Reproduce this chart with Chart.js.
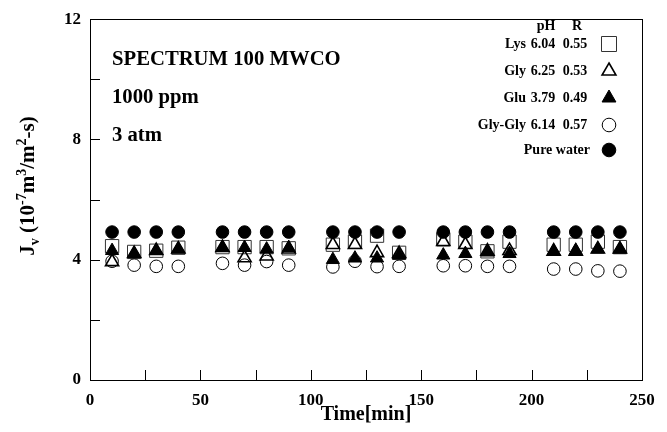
<!DOCTYPE html>
<html>
<head>
<meta charset="utf-8">
<script src="https://cdn.jsdelivr.net/npm/chart.js@4/dist/chart.umd.min.js"></script>
<style>
html,body{margin:0;padding:0;background:#fff;}
#wrap{width:667px;height:432px;position:relative;}
</style>
</head>
<body>
<div id="wrap"><canvas id="c" width="667" height="432"></canvas></div>
<script>
const times = [10,20,30,40, 60,70,80,90, 110,120,130,140, 160,170,180,190, 210,220,230,240];
const lys    = [4.45,4.26,4.30,4.40, 4.42,4.42,4.42,4.38, 4.50,4.60,4.80,4.23, 4.68,4.60,4.28,4.60, 4.50,4.50,4.60,4.42];
const gly    = [3.93,4.20,4.30,4.35, 4.40,4.06,4.12,4.35, 4.50,4.50,4.23,4.20, 4.60,4.50,4.28,4.30, 4.28,4.28,4.35,4.35];
const glu    = [4.30,4.20,4.30,4.35, 4.40,4.40,4.35,4.40, 4.00,4.05,4.05,4.15, 4.15,4.20,4.25,4.20, 4.28,4.30,4.35,4.35];
const glygly = [3.95,3.82,3.78,3.78, 3.88,3.82,3.94,3.82, 3.76,3.95,3.77,3.78, 3.80,3.80,3.78,3.78, 3.69,3.69,3.63,3.62];
const pure   = [4.92,4.92,4.92,4.92, 4.92,4.92,4.92,4.92, 4.92,4.92,4.92,4.92, 4.92,4.92,4.92,4.92, 4.92,4.92,4.92,4.92];

const seriesNames = ['Lys','Gly','Glu','Gly-Gly','Pure water'];
const seriesPH = ['6.04','6.25','3.79','6.14',''];
const seriesR  = ['0.55','0.53','0.49','0.57',''];
const annotations = ['SPECTRUM 100 MWCO','1000 ppm','3 atm'];

const FONT = '"Liberation Serif","Times New Roman",serif';

function pts(arr){ return times.map((t,i)=>({x:t,y:arr[i]})); }

const styles = [
  {pointStyle:'rect', radius:9.4, fill:'rgba(0,0,0,0)', border:'#333', bw:1, order:5},
  {pointStyle:'triangle', radius:7.6, fill:'rgba(0,0,0,0)', border:'#000', bw:1.6, order:3},
  {pointStyle:'triangle', radius:7.6, fill:'#000', border:'#000', bw:1, order:4},
  {pointStyle:'circle', radius:6.3, fill:'rgba(0,0,0,0)', border:'#000', bw:1, order:2},
  {pointStyle:'circle', radius:6.3, fill:'#000', border:'#000', bw:1, order:1},
];
const allData = [lys, gly, glu, glygly, pure];

const datasets = allData.map((d,i)=>({
  label: seriesNames[i],
  data: pts(d),
  showLine:false,
  pointStyle: styles[i].pointStyle,
  pointRadius: styles[i].radius,
  pointHoverRadius: styles[i].radius,
  backgroundColor: styles[i].fill,
  borderColor: styles[i].border,
  pointBorderWidth: styles[i].bw,
  borderWidth: styles[i].bw,
  order: styles[i].order
}));

const framePlugin = {
  id:'frame',
  afterDraw(chart){
    const ctx = chart.ctx;
    const a = chart.chartArea;
    const xs = chart.scales.x, ys = chart.scales.y;
    ctx.save();
    ctx.strokeStyle = '#000';
    ctx.lineWidth = 1;
    ctx.strokeRect(Math.round(a.left)+0.5, Math.round(a.top)+0.5, Math.round(a.right-a.left), Math.round(a.bottom-a.top));
    ctx.beginPath();
    ys.ticks.forEach(t=>{
      const y = Math.round(ys.getPixelForValue(t.value))+0.5;
      ctx.moveTo(a.left, y); ctx.lineTo(a.left+10, y);
    });
    xs.ticks.forEach(t=>{
      const x = Math.round(xs.getPixelForValue(t.value))+0.5;
      ctx.moveTo(x, a.bottom); ctx.lineTo(x, a.bottom-10);
    });
    ctx.stroke();

    // y axis title with sub/superscripts
    ctx.save();
    ctx.translate(29, 186);
    ctx.rotate(-Math.PI/2);
    ctx.fillStyle = '#000';
    ctx.textBaseline = 'middle';
    const big = 'bold 21px '+FONT, small = 'bold 14px '+FONT;
    const parts = [
      ['J',big,0],['v',small,6],[' (10',big,0],['-7',small,-7],['m',big,0],['3',small,-7],['/m',big,0],['2',small,-7],['-s)',big,0]
    ];
    let total = 0;
    parts.forEach(p=>{ ctx.font=p[1]; total += ctx.measureText(p[0]).width; });
    let x = -total/2;
    ctx.textAlign = 'left';
    parts.forEach(p=>{ ctx.font=p[1]; ctx.fillText(p[0], x, p[2]); x += ctx.measureText(p[0]).width; });
    ctx.restore();

    // annotations
    ctx.fillStyle = '#000';
    ctx.font = 'bold 20.7px '+FONT;
    ctx.textAlign = 'left';
    ctx.textBaseline = 'middle';
    const annY = [60, 98, 136];
    annotations.forEach((s,i)=>ctx.fillText(s, 112, annY[i]));

    // legend
    ctx.font = 'bold 14px '+FONT;
    ctx.textBaseline = 'middle';
    ctx.textAlign = 'center';
    ctx.fillText('pH', 546, 26);
    ctx.fillText('R', 577, 26);
    const rowY = [44, 71, 98, 125, 150];
    const mx = 609;
    seriesNames.forEach((n,i)=>{
      ctx.fillStyle = '#000';
      if (seriesPH[i]) {
        ctx.textAlign = 'right';
        ctx.fillText(n, 526, rowY[i]);
        ctx.textAlign = 'center';
        ctx.fillText(seriesPH[i], 543, rowY[i]);
        ctx.fillText(seriesR[i], 575, rowY[i]);
      } else {
        ctx.textAlign = 'right';
        ctx.fillText(n, 590, rowY[i]);
      }
      const st = styles[i];
      ctx.fillStyle = st.fill; ctx.strokeStyle = st.border; ctx.lineWidth = st.bw;
      ctx.beginPath();
      if (st.pointStyle==='rect'){
        const s = 7.5;
        ctx.rect(mx-s, rowY[i]-s, 2*s, 2*s);
      } else if (st.pointStyle==='triangle'){
        const r = 8;
        ctx.moveTo(mx, rowY[i]-r);
        ctx.lineTo(mx + r*Math.cos(Math.PI/6), rowY[i]+r*0.5);
        ctx.lineTo(mx - r*Math.cos(Math.PI/6), rowY[i]+r*0.5);
        ctx.closePath();
      } else {
        ctx.arc(mx, rowY[i], 6.8, 0, Math.PI*2);
      }
      ctx.fill(); ctx.stroke();
    });
    ctx.restore();
  }
};

new Chart(document.getElementById('c'), {
  type:'scatter',
  data:{datasets},
  options:{
    responsive:false,
    animation:false,
    devicePixelRatio:1,
    layout:{padding:{left:0,right:25,top:16,bottom:0}},
    plugins:{legend:{display:false},tooltip:{enabled:false}},
    scales:{
      x:{
        type:'linear', min:0, max:250,
        grid:{display:false, drawTicks:false},
        border:{display:false},
        ticks:{stepSize:25, autoSkip:false, maxRotation:0, padding:10, color:'#000',
          font:{family:FONT, size:17, weight:'bold'},
          callback:v=> (v%50===0 ? String(v) : '')},
        title:{display:true, text:'Time[min]', color:'#000', font:{family:FONT,size:20,weight:'bold'}, padding:{top:0,bottom:5}},
        afterFit(s){ s.height = 52; }
      },
      y:{
        type:'linear', min:0, max:12,
        grid:{display:false, drawTicks:false},
        border:{display:false},
        ticks:{stepSize:2, autoSkip:false, padding:9, color:'#000',
          font:{family:FONT, size:17, weight:'bold'},
          callback:v=> (v%4===0 ? String(v) : '')},
        afterFit(s){ s.width = 90; }
      }
    }
  },
  plugins:[framePlugin]
});
</script>
</body>
</html>
